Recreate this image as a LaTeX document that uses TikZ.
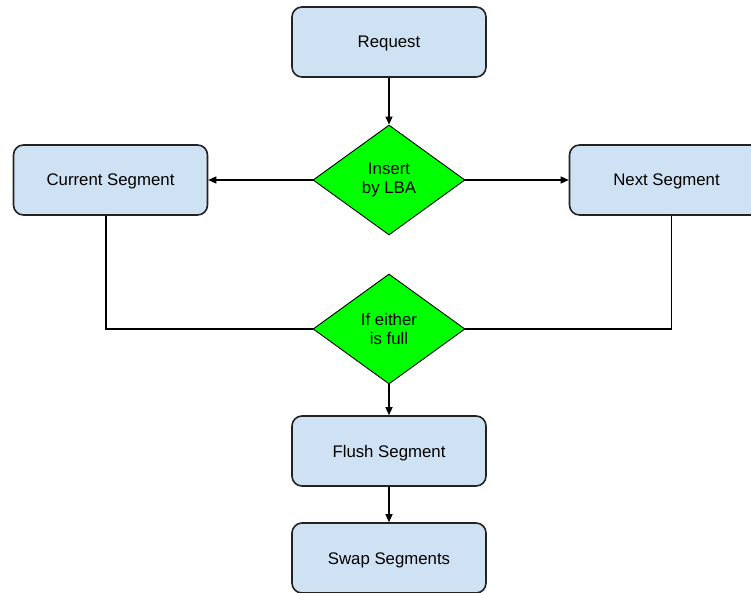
\documentclass[tikz,border=0pt]{standalone}
\usepackage{fontspec}
\setmainfont{Liberation Sans}
\usetikzlibrary{shapes.geometric,arrows.meta}
\definecolor{boxfill}{HTML}{CFE2F3}
\definecolor{boxline}{HTML}{222222}
\definecolor{decfill}{HTML}{00FF00}
\tikzset{
  procbox/.style={draw=boxline, fill=boxfill, line width=1.6pt, rounded corners=10pt,
    minimum width=194pt, minimum height=70pt, inner sep=0pt,
    text height=12pt, text depth=0pt,
    font=\fontsize{16.8}{19}\selectfont},
  decision/.style={diamond, draw=black, fill=decfill, line width=0.9pt, inner sep=0pt,
    minimum width=152pt, minimum height=110pt, align=center,
    font=\fontsize{16.8}{19}\selectfont},
  flow/.style={line width=1.3pt, -{Triangle[length=8pt,width=7pt]}},
  link/.style={line width=1.3pt}
}
\begin{document}
\begin{tikzpicture}[x=1pt, y=-1pt]
  \useasboundingbox (0,0) rectangle (751,593);
  \clip (0,0) rectangle (751,593);
  \fill[white] (0,0) rectangle (751,593);

  % process boxes
  \node[procbox] (req)   at (389,42)    {Request};
  \node[procbox] (cur)   at (110.5,180) {Current Segment};
  \node[procbox] (next)  at (666.5,180) {Next Segment};
  \node[procbox] (flush) at (389,451)   {Flush Segment};
  \node[procbox] (swap)  at (389,558)   {Swap Segments};

  % decisions
  \node[decision] (ins)  at (389,180) {Insert\\by LBA};
  \node[decision] (full) at (389,329) {If either\\is full};

  % connectors
  \draw[flow] (req.south) -- (ins.north);
  \draw[flow] (ins.west) -- (cur.east);
  \draw[flow] (ins.east) -- (next.west);
  \draw[link] ([xshift=-4.5pt]cur.south) |- (full.west);
  \draw[link] ([xshift=5pt]next.south) |- (full.east);
  \draw[flow] (full.south) -- (flush.north);
  \draw[flow] (flush.south) -- (swap.north);
\end{tikzpicture}
\end{document}
